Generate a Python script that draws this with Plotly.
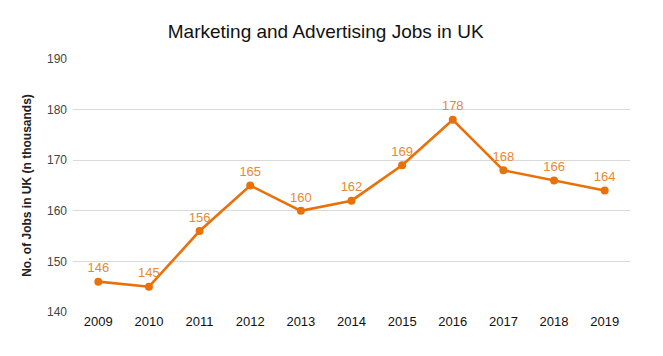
import plotly.graph_objects as go

years = ["2009", "2010", "2011", "2012", "2013", "2014", "2015", "2016", "2017", "2018", "2019"]
jobs = [146, 145, 156, 165, 160, 162, 169, 178, 168, 166, 164]
y_ticks = [140, 150, 160, 170, 180, 190]

orange = "#E8710A"

W, H = 655, 348

fig = go.Figure()
fig.add_trace(go.Scatter(
    x=years, y=jobs, mode="lines+markers+text",
    line=dict(color=orange, width=2.6),
    marker=dict(color=orange, size=8),
    text=[str(v) for v in jobs],
    textposition="top center",
    textfont=dict(color="#E8892F", size=13, family="Liberation Sans, Arial, sans-serif"),
    cliponaxis=False,
    hoverinfo="x+y",
))

fig.update_layout(
    width=W, height=H,
    margin=dict(l=65, r=33, t=51, b=44),
    paper_bgcolor="white", plot_bgcolor="white",
    showlegend=False,
    title=dict(text="Marketing and Advertising Jobs in UK", x=0.485, xanchor="center",
               y=1 - 23/H, yanchor="middle",
               font=dict(size=19, color="#111111", family="Liberation Sans, Arial, sans-serif")),
    font=dict(family="Liberation Sans, Arial, sans-serif"),
)
fig.update_xaxes(
    type="category", range=[-0.5, 10.5], showgrid=False, showline=False, zeroline=False,
    ticks="", tickfont=dict(size=13, color="#111111"),
)
fig.update_yaxes(
    range=[140, 190], tickvals=y_ticks, showgrid=True, gridcolor="#D9D9D9", gridwidth=1,
    zeroline=False, showline=False, ticks="", ticklabelstandoff=5,
    tickfont=dict(size=12, color="#444444"),
    title=dict(text="<b>No. of Jobs in UK (n thousands)</b>", font=dict(size=12, color="#222222"), standoff=12),
)

fig.write_html("out.html")
